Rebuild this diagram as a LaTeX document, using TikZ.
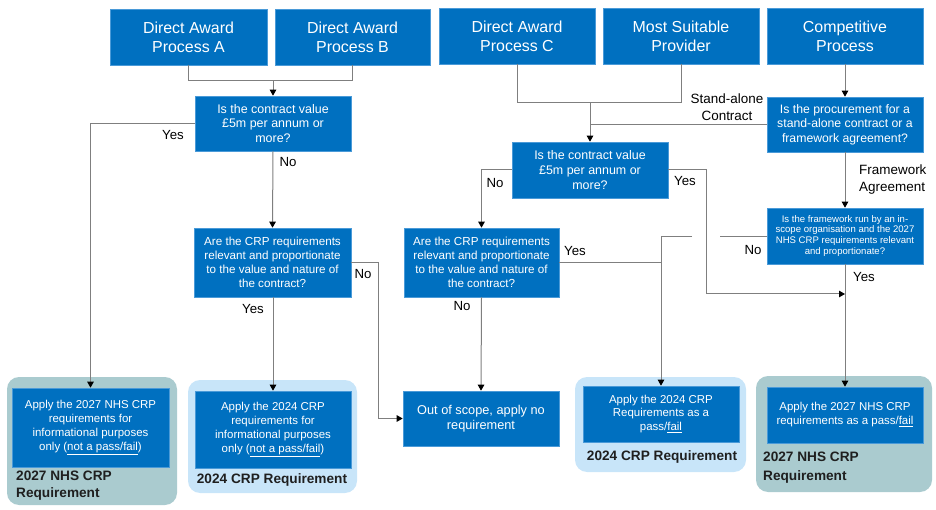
\documentclass[tikz,border=0pt]{standalone}
\usepackage{fontspec}
\setmainfont{Liberation Sans}
\usetikzlibrary{arrows.meta}
\definecolor{nhsblue}{HTML}{0070C0}
\definecolor{nhsborder}{HTML}{4A9AD8}
\definecolor{lightblue}{HTML}{C8E5F9}
\definecolor{tealgrey}{HTML}{AACBCF}
\definecolor{linegrey}{HTML}{7F7F7F}
\definecolor{labeltext}{HTML}{1F1F1F}
\tikzset{
  box/.style={draw=nhsborder, line width=0.6bp, fill=nhsblue, text=white, inner sep=0pt, align=center},
  topbox/.style={box, font=\fontsize{16}{19}\selectfont},
  qbox/.style={box, font=\fontsize{12.5}{15}\selectfont},
  qsbox/.style={box, font=\fontsize{11.7}{14}\selectfont},
  qxbox/.style={box, font=\fontsize{9.6}{11}\selectfont},
  abox/.style={box, font=\fontsize{11.5}{14.3}\selectfont},
  outer/.style={rounded corners=12bp, draw=none},
  conn/.style={draw=linegrey, line width=1bp},
  arr/.style={conn, -{Triangle[length=6bp,width=6.5bp,color=black]}},
  lbl/.style={font=\fontsize{13.3}{16}\selectfont, text=black, inner sep=0pt, align=center},
  grp/.style={font=\bfseries\fontsize{13.7}{17.5}\selectfont, text=labeltext, inner sep=0pt},
}
\begin{document}
\begin{tikzpicture}[x=1bp,y=-1bp]
\useasboundingbox (0,0) rectangle (936,510);
% group backgrounds
\fill[tealgrey,outer] (7,377) rectangle (177,505);
\fill[lightblue,outer] (188,380) rectangle (357,493);
\fill[lightblue,outer] (575,377) rectangle (746,472);
\fill[tealgrey,outer] (756,376) rectangle (932,492);
% top boxes
\node[topbox, minimum width=157bp, minimum height=56bp] (A) at (188.5,37) {Direct Award\\Process A};
\node[topbox, minimum width=155bp, minimum height=56bp] (B) at (352.5,37) {Direct Award\\Process B};
\node[topbox, minimum width=156bp, minimum height=56bp] (C) at (517,36) {Direct Award\\Process C};
\node[topbox, minimum width=156bp, minimum height=56bp] (MSP) at (681,36) {Most Suitable\\Provider};
\node[topbox, minimum width=156bp, minimum height=56bp] (CP) at (845,36) {Competitive\\Process};
% questions
\node[qbox, minimum width=156bp, minimum height=55bp] (Q1) at (273,123.5) {Is the contract value\\£5m per annum or\\more?};
\node[qsbox, minimum width=157bp, minimum height=69bp] (Q2) at (272.5,262.5) {Are the CRP requirements\\relevant and proportionate\\to the value and nature of\\the contract?};
\node[qbox, minimum width=156bp, minimum height=56bp] (Q3) at (590,170) {Is the contract value\\£5m per annum or\\more?};
\node[qbox, font=\fontsize{12.3}{14.5}\selectfont, minimum width=156bp, minimum height=55bp] (Q4) at (845,124.5) {Is the procurement for a\\stand-alone contract or a\\framework agreement?};
\node[qsbox, minimum width=155bp, minimum height=69bp] (Q5) at (481.5,262.5) {Are the CRP requirements\\relevant and proportionate\\to the value and nature of\\the contract?};
\node[qxbox, minimum width=156bp, minimum height=56bp] (Q6) at (845,236) {Is the framework run by an in-\\scope organisation and the 2027\\NHS CRP requirements relevant\\and proportionate?};
% outcomes
\node[abox, minimum width=157bp, minimum height=79bp] (Li) at (90.5,427.5) {Apply the 2027 NHS CRP\\requirements for\\informational purposes\\only (\underline{not a pass/fail})};
\node[abox, minimum width=156bp, minimum height=77bp] (Mi) at (273,429.5) {Apply the 2024 CRP\\requirements for\\informational purposes\\only (\underline{not a pass/fail})};
\node[box, font=\fontsize{12.8}{15}\selectfont, minimum width=156bp, minimum height=55bp] (Out) at (481,418.5) {Out of scope, apply no\\requirement};
\node[abox, font=\fontsize{11.5}{14}\selectfont, minimum width=156bp, minimum height=56bp] (RCi) at (661,414) {Apply the 2024 CRP\\Requirements as a\\pass/\underline{fail}};
\node[abox, font=\fontsize{11.5}{14}\selectfont, minimum width=156bp, minimum height=56bp] (Ri) at (845,415) {Apply the 2027 NHS CRP\\requirements as a pass/\underline{fail}};
% group labels
\node[grp, anchor=west, align=left] (Lg) at (16,485.5) {2027 NHS CRP\\Requirement};
\node[grp] (Mg) at (272,480) {2024 CRP Requirement};
\node[grp] (RCg) at (662,457) {2024 CRP Requirement};
\node[grp, anchor=west, align=left, font=\bfseries\fontsize{13.7}{19}\selectfont] (Rg) at (763,467.5) {2027 NHS CRP\\Requirement};
% coordinates
\coordinate (j1) at (273,81);
\coordinate (j2) at (590,103);
\coordinate (n2) at (378,262.5);
\coordinate (y3) at (706,294);
\coordinate (m3) at (845,294);
\coordinate (t5) at (661,237);
\coordinate (g1) at (692,237);
\coordinate (g2) at (720,237);
% connectors left
\draw[conn] (A.south) |- (j1);
\draw[conn] (B.south) |- (j1);
\draw[arr] (j1) -- (Q1.north);
\draw[arr] (Q1.west) -| (Li.north);
\draw[arr] (Q1.south) -- (Q2.north);
\draw[arr] (Q2.east) -- (n2) |- (Out.west);
\draw[arr] (Q2.south -| Mi.north) -- (Mi.north);
% connectors right
\draw[conn] (C.south) |- (j2);
\draw[conn] (MSP.south) |- (j2);
\draw[arr] (j2) -- (Q3.north);
\draw[conn] (Q4.west) -- (Q4.west -| j2);
\draw[arr] (CP.south) -- (Q4.north);
\draw[arr] (Q3.west) -| (Q5.north);
\draw[arr] (Q3.east) -| (y3) -- (m3);
\draw[arr] (Q5.south) -- (Out.north);
\draw[conn] (Q5.east) -- (Q5.east -| t5);
\draw[conn] (g1) -- (t5);
\draw[arr] (t5) -- (RCi.north);
\draw[conn] (Q6.west |- g2) -- (g2);
\draw[arr] (Q4.south) -- (Q6.north);
\draw[arr] (Q6.south) -- (Ri.north);
% labels
\node[lbl] (l1) at (173,135) {Yes};
\node[lbl] (l2) at (288,162) {No};
\node[lbl] (l3) at (363,274) {No};
\node[lbl] (l4) at (253,309) {Yes};
\node[lbl, font=\fontsize{13.5}{17}\selectfont] (l5) at (727,107.5) {Stand-alone\\Contract};
\node[lbl] (l6) at (495,183) {No};
\node[lbl] (l7) at (685,181) {Yes};
\node[lbl, align=left, anchor=west, font=\fontsize{13.5}{17}\selectfont] (l8) at (859,179.5) {Framework\\Agreement};
\node[lbl] (l9) at (575,251) {Yes};
\node[lbl] (l10) at (753,250) {No};
\node[lbl] (l11) at (462,306) {No};
\node[lbl] (l12) at (864,277) {Yes};
\end{tikzpicture}
\end{document}
